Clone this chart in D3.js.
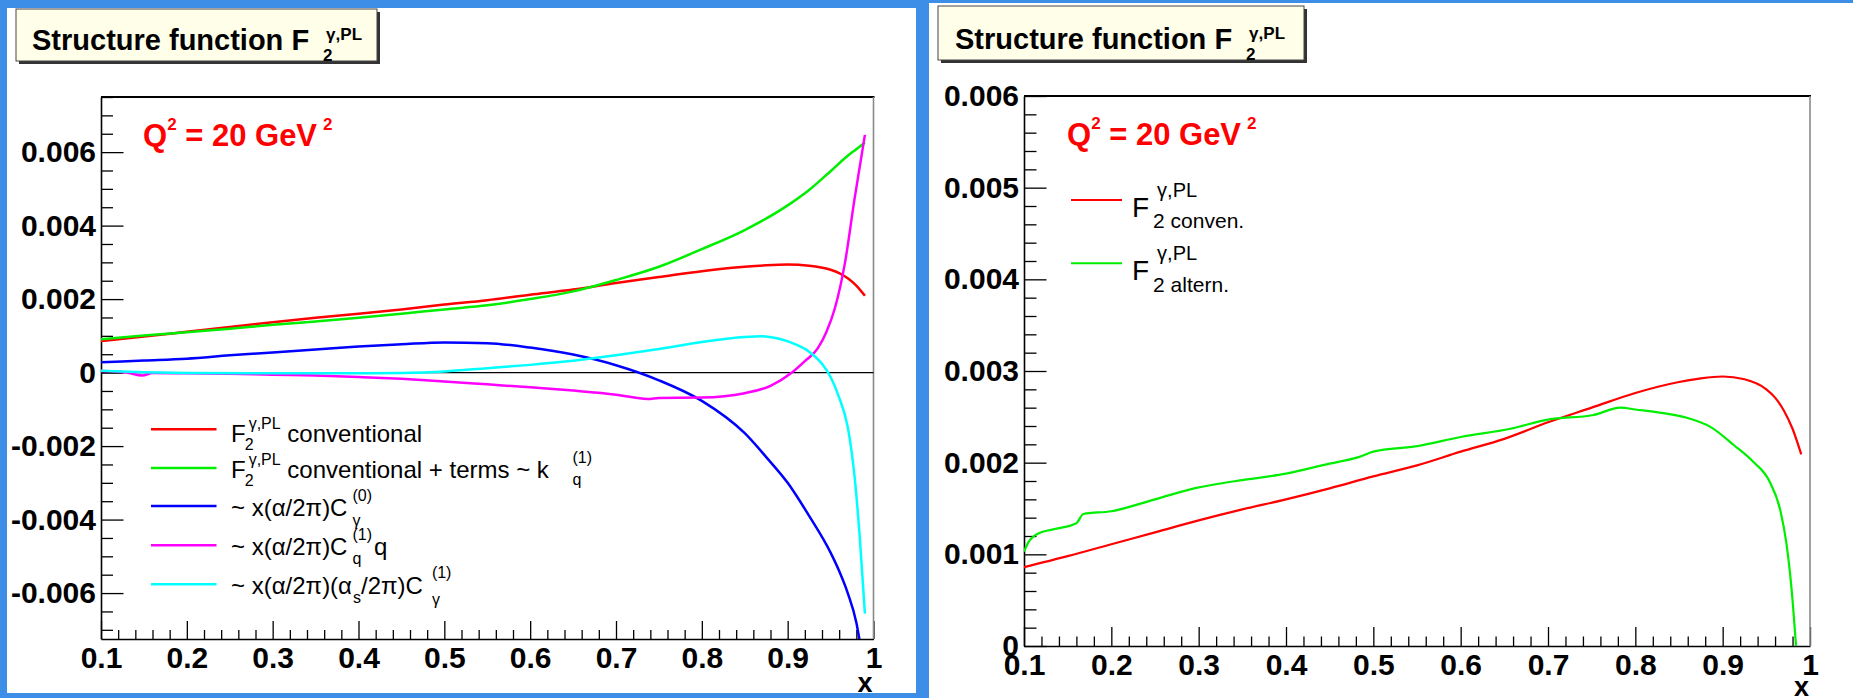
<!DOCTYPE html>
<html>
<head>
<meta charset="utf-8">
<script src="https://cdn.jsdelivr.net/npm/d3@7"></script>
<style>
  html, body { margin: 0; padding: 0; background: #3d8ee6; }
  svg { display: block; }
</style>
</head>
<body>
<svg id="chart" width="1853" height="698"></svg>
<script>
// ---- axis ticks -------------------------------------------------------
const xTickValues = [0.1, 0.2, 0.3, 0.4, 0.5, 0.6, 0.7, 0.8, 0.9, 1.0];
const xTickLabels = ["0.1", "0.2", "0.3", "0.4", "0.5", "0.6", "0.7", "0.8", "0.9", "1"];
const leftYTickValues = [-0.006, -0.004, -0.002, 0, 0.002, 0.004, 0.006];
const leftYTickLabels = ["-0.006", "-0.004", "-0.002", "0", "0.002", "0.004", "0.006"];
const rightYTickValues = [0, 0.001, 0.002, 0.003, 0.004, 0.005, 0.006];
const rightYTickLabels = ["0", "0.001", "0.002", "0.003", "0.004", "0.005", "0.006"];

// ---- curves: [x, value] at Q^2 = 20 GeV^2 -----------------------------
// F2 (gamma, PL), conventional
const f2Conventional = [
  [0.10, 0.00086], [0.15, 0.00098], [0.20, 0.00111], [0.25, 0.00124], [0.30, 0.00137],
  [0.35, 0.00149], [0.40, 0.00160], [0.45, 0.00172], [0.50, 0.00185], [0.55, 0.00197],
  [0.60, 0.00212], [0.65, 0.00226], [0.70, 0.00244], [0.75, 0.00260], [0.80, 0.00276],
  [0.85, 0.00288], [0.875, 0.00292], [0.90, 0.00294], [0.925, 0.00291], [0.95, 0.00280],
  [0.96, 0.00271], [0.97, 0.00257], [0.98, 0.00237], [0.99, 0.00209]
];
// conventional + terms ~ k_q^(1)
const f2WithKTerms = [
  [0.10, 0.00091], [0.15, 0.00101], [0.20, 0.00110], [0.25, 0.00119], [0.30, 0.00130],
  [0.35, 0.00139], [0.40, 0.00149], [0.45, 0.00160], [0.50, 0.00172], [0.55, 0.00183],
  [0.60, 0.00200], [0.65, 0.00221], [0.70, 0.00252], [0.75, 0.00288], [0.80, 0.00336],
  [0.85, 0.00388], [0.90, 0.00455], [0.925, 0.00497], [0.95, 0.00548], [0.97, 0.00590],
  [0.98, 0.00608], [0.99, 0.00626]
];
// ~ x(alpha/2pi) C_gamma^(0)
const termCGamma0 = [
  [0.10, 0.00028], [0.15, 0.00033], [0.20, 0.00038], [0.25, 0.00047], [0.30, 0.00055],
  [0.35, 0.00063], [0.40, 0.00071], [0.45, 0.00077], [0.50, 0.00082], [0.55, 0.00080],
  [0.60, 0.00068], [0.65, 0.00049], [0.70, 0.00020], [0.75, -0.00021], [0.80, -0.00077],
  [0.85, -0.00165], [0.875, -0.00230], [0.90, -0.00300], [0.925, -0.00390], [0.95, -0.00490],
  [0.96, -0.00540], [0.97, -0.00600], [0.98, -0.00680], [0.986, -0.00760]
];
// ~ x(alpha/2pi) C_q^(1) q
const termCq1 = [
  [0.10, 0.00004], [0.13, 0.00000], [0.148, -0.00008], [0.16, -0.00001], [0.20, -0.00002],
  [0.25, -0.00003], [0.30, -0.00006], [0.35, -0.00008], [0.40, -0.00012], [0.45, -0.00017],
  [0.50, -0.00024], [0.55, -0.00032], [0.60, -0.00040], [0.65, -0.00049], [0.70, -0.00060],
  [0.737, -0.00072], [0.75, -0.00069], [0.80, -0.00068], [0.85, -0.00056], [0.88, -0.00036],
  [0.905, 0.00000], [0.92, 0.00031], [0.935, 0.00066], [0.945, 0.00110], [0.955, 0.00175],
  [0.967, 0.00302], [0.978, 0.00474], [0.99, 0.00647]
];
// ~ x(alpha/2pi)(alpha_s/2pi) C_gamma^(1)
const termCGamma1 = [
  [0.10, 0.00005], [0.15, 0.00001], [0.20, -0.00001], [0.30, -0.00002], [0.40, -0.00002],
  [0.45, -0.00001], [0.50, 0.00003], [0.55, 0.00012], [0.60, 0.00021], [0.65, 0.00032],
  [0.70, 0.00047], [0.75, 0.00064], [0.80, 0.00083], [0.85, 0.00097], [0.87, 0.00099],
  [0.89, 0.00092], [0.91, 0.00076], [0.925, 0.00057], [0.94, 0.00024], [0.95, -0.00012],
  [0.96, -0.00068], [0.97, -0.00148], [0.978, -0.00284], [0.984, -0.00448], [0.99, -0.00656]
];
// F2 (gamma, PL), alternative
const f2Alternative = [
  [0.100, 0.00103], [0.105, 0.00113], [0.117, 0.00123], [0.132, 0.00127], [0.160, 0.00134],
  [0.168, 0.00144], [0.20, 0.00147], [0.25, 0.00160], [0.30, 0.00173], [0.323, 0.00177],
  [0.35, 0.00181], [0.40, 0.00188], [0.45, 0.00199], [0.483, 0.00206], [0.50, 0.00212],
  [0.55, 0.00218], [0.60, 0.00228], [0.657, 0.00237], [0.70, 0.00247], [0.752, 0.00252],
  [0.783, 0.00260], [0.80, 0.00258], [0.832, 0.00254], [0.859, 0.00249], [0.886, 0.00239],
  [0.913, 0.00219], [0.935, 0.00201], [0.954, 0.00179], [0.966, 0.00148], [0.973, 0.00112],
  [0.979, 0.00061], [0.984, 0.00000]
];

const FONT = "'Liberation Sans', Arial, Helvetica, sans-serif";
const svg = d3.select("#chart");

// white pads on the blue canvas
svg.append("rect").attr("x", 7).attr("y", 8).attr("width", 909).attr("height", 685).attr("fill", "#fff");
svg.append("rect").attr("x", 929).attr("y", 3).attr("width", 924).attr("height", 695).attr("fill", "#fff");

// ---- text with stacked super/subscripts -------------------------------
function richText(g, x, y, parts, base) {
  let cx = x;
  const mk = (str, px, py, size) => {
    const t = g.append("text")
      .attr("x", px).attr("y", py)
      .attr("font-family", FONT)
      .attr("font-size", size)
      .attr("font-weight", base.weight || "normal")
      .attr("fill", base.fill || "#000")
      .text(str.replace(/ /g, "\u00A0"));
    return t.node().getComputedTextLength();
  };
  parts.forEach(p => {
    if (p.t !== undefined) {
      cx += (p.dx || 0);
      cx += mk(p.t, cx, y + (p.dy || 0), p.size || base.size);
    } else {
      cx += (p.dx || 0);
      let w = 0;
      const s = p.size || base.scriptSize;
      if (p.sup) w = Math.max(w, (p.supDx || 0) + mk(p.sup, cx + (p.supDx || 0), y + p.supDy, p.supSize || s));
      if (p.sub) w = Math.max(w, (p.subDx || 0) + mk(p.sub, cx + (p.subDx || 0), y + p.subDy, p.subSize || s));
      cx += w;
    }
  });
  return cx;
}

// ---- title box -----------------------------------------------------------
function titleBox(bx, by, bw, bh, tx, ty) {
  svg.append("rect").attr("x", bx + 3).attr("y", by + 3).attr("width", bw).attr("height", bh).attr("fill", "#333");
  svg.append("rect").attr("x", bx).attr("y", by).attr("width", bw).attr("height", bh)
    .attr("fill", "#fefee9").attr("stroke", "#444").attr("stroke-width", 1);
  const g = svg.append("g");
  richText(g, tx, ty, [
    { t: "Structure function F" },
    { sup: "γ,PL", sub: "2", supDy: -10, subDy: 11, supDx: 17, subDx: 14 }
  ], { size: 29, scriptSize: 17, weight: "bold" });
}

// ---- one plotting pad ------------------------------------------------------
function drawPanel(cfg) {
  const x = d3.scaleLinear().domain([0.1, 1.0]).range([cfg.x0, cfg.x1]);
  const y = d3.scaleLinear().domain(cfg.yDomain).range([cfg.y1, cfg.y0]);
  const g = svg.append("g");

  const clipId = "clip" + cfg.id;
  svg.append("clipPath").attr("id", clipId).append("rect")
    .attr("x", cfg.x0).attr("y", cfg.y0).attr("width", cfg.x1 - cfg.x0).attr("height", cfg.y1 - cfg.y0);

  // minor ticks
  const xMinor = d3.range(0, 46).map(k => 0.1 + k * 0.02).filter(v => v <= 1.0001 && Math.abs(v * 10 - Math.round(v * 10)) > 1e-6);
  const kLo = Math.ceil(cfg.yDomain[0] / cfg.yMinor - 1e-6), kHi = Math.floor(cfg.yDomain[1] / cfg.yMinor + 1e-6);
  const yMinor = d3.range(kLo, kHi + 1).map(k => k * cfg.yMinor)
    .filter(v => !cfg.yTicks.some(t => Math.abs(t - v) < 1e-9));

  const gxMinor = g.append("g").attr("transform", `translate(0,${cfg.y1})`)
    .call(d3.axisBottom(x).tickValues(xMinor).tickSizeInner(-cfg.xMinorLen).tickSizeOuter(0).tickFormat(() => ""));
  gxMinor.select(".domain").remove();
  const gyMinor = g.append("g").attr("transform", `translate(${cfg.x0},0)`)
    .call(d3.axisLeft(y).tickValues(yMinor).tickSizeInner(-cfg.yMinorLen).tickSizeOuter(0).tickFormat(() => ""));
  gyMinor.select(".domain").remove();

  // major ticks and labels
  const gx = g.append("g").attr("transform", `translate(0,${cfg.y1})`)
    .call(d3.axisBottom(x).tickValues(xTickValues).tickSizeInner(-cfg.xMajorLen).tickSizeOuter(0)
      .tickPadding(7.5).tickFormat((d, i) => xTickLabels[i]));
  const gy = g.append("g").attr("transform", `translate(${cfg.x0},0)`)
    .call(d3.axisLeft(y).tickValues(cfg.yTicks).tickSizeInner(-cfg.yMajorLen).tickSizeOuter(0)
      .tickPadding(5).tickFormat((d, i) => cfg.yLabels[i]));

  [gx, gy, gxMinor, gyMinor].forEach(a => {
    a.attr("font-family", FONT).attr("font-size", 30).attr("font-weight", "bold");
    a.selectAll("line").attr("stroke", "#000").attr("stroke-width", 1.3);
    a.selectAll("text").attr("fill", "#000");
    a.selectAll(".domain").attr("stroke", "#000").attr("stroke-width", 1.6);
  });

  // frame top / right
  g.append("line").attr("x1", cfg.x0).attr("x2", cfg.x1 + 1).attr("y1", cfg.y0).attr("y2", cfg.y0)
    .attr("stroke", "#000").attr("stroke-width", 2.2);
  g.append("line").attr("x1", cfg.x1).attr("x2", cfg.x1).attr("y1", cfg.y0).attr("y2", cfg.y1)
    .attr("stroke", "#8a8a8a").attr("stroke-width", 1.6);

  if (cfg.zeroLine) {
    g.append("line").attr("x1", cfg.x0).attr("x2", cfg.x1).attr("y1", y(0)).attr("y2", y(0))
      .attr("stroke", "#000").attr("stroke-width", 1.1);
  }

  // axis title
  g.append("text").attr("x", cfg.x1 - 1).attr("y", cfg.xTitleY).attr("text-anchor", "end")
    .attr("font-family", FONT).attr("font-weight", "bold").attr("font-size", 27).text("x");

  // curves
  const line = d3.line().x(d => x(d[0])).y(d => y(d[1])).curve(d3.curveMonotoneX);
  const curves = g.append("g").attr("clip-path", `url(#${clipId})`);
  cfg.series.forEach(s => {
    curves.append("path").datum(s.data).attr("d", line)
      .attr("fill", "none").attr("stroke", s.color).attr("stroke-width", cfg.lineWidth)
      .attr("stroke-linejoin", "round");
  });

  // Q^2 label
  richText(g, cfg.qx, cfg.qy, [
    { t: "Q" },
    { sup: "2", supDy: -16 },
    { t: " = 20 GeV" },
    { sup: "2", supDy: -16, supDx: 6 }
  ], { size: 31, scriptSize: 17, weight: "bold", fill: "#ff0000" });

  return { x, y, g };
}

// ---- left pad: contributions --------------------------------------------
const leftSeries = [
  { data: f2Conventional, color: "#ff0000" },
  { data: f2WithKTerms, color: "#00ee00" },
  { data: termCGamma0, color: "#0000ff" },
  { data: termCq1, color: "#ff00ff" },
  { data: termCGamma1, color: "#00ffff" }
];
titleBox(16, 9, 361, 52, 32, 50);
const left = drawPanel({
  id: "L", x0: 101, x1: 873.5, y0: 97, y1: 639,
  yDomain: [-0.00725, 0.0075], yTicks: leftYTickValues, yLabels: leftYTickLabels, yMinor: 0.0005,
  xMajorLen: 18, xMinorLen: 9, yMajorLen: 22.5, yMinorLen: 12,
  zeroLine: true, xTitleY: 692, qx: 143, qy: 146, lineWidth: 2.5,
  series: leftSeries
});

// left legend
const leftLegendColors = ["#ff0000", "#00ee00", "#0000ff", "#ff00ff", "#00ffff"];
const leftLegendY = [429.3, 468, 506, 545.3, 584.3];
const leftLegendText = [
  [{ t: "F" }, { sup: "γ,PL", sub: "2", supDy: -13, subDy: 8, supDx: 3, subDx: -1 }, { t: " conventional" }],
  [{ t: "F" }, { sup: "γ,PL", sub: "2", supDy: -13, subDy: 8, supDx: 3, subDx: -1 }, { t: " conventional + terms ~ k " },
   { sup: "(1)", sub: "q", supDy: -15, subDy: 7, dx: 17 }],
  [{ t: "~ x(α/2π)C" }, { sup: "(0)", sub: "γ", supDy: -15, subDy: 10, dx: 5 }],
  [{ t: "~ x(α/2π)C" }, { sup: "(1)", sub: "q", supDy: -15, subDy: 9, dx: 5 }, { t: "q", dx: 2 }],
  [{ t: "~ x(α/2π)(α" }, { sub: "s", subDy: 9, dx: 1 }, { t: "/2π)C" }, { sup: "(1)", sub: "γ", supDy: -16, subDy: 11, dx: 9 }]
];
const leftBaseOffset = [12.4, 10.3, 9.7, 9.7, 9.7];
leftLegendText.forEach((parts, i) => {
  left.g.append("line").attr("x1", 151).attr("x2", 216.5)
    .attr("y1", leftLegendY[i]).attr("y2", leftLegendY[i])
    .attr("stroke", leftLegendColors[i]).attr("stroke-width", 2.4);
  richText(left.g, 231, leftLegendY[i] + leftBaseOffset[i], parts, { size: 24, scriptSize: 16 });
});

// ---- right pad: conventional vs alternative -------------------------------
titleBox(938, 6, 366, 54, 955, 48.5);
const right = drawPanel({
  id: "R", x0: 1024, x1: 1810, y0: 96, y1: 646,
  yDomain: [0, 0.006], yTicks: rightYTickValues, yLabels: rightYTickLabels, yMinor: 0.0002,
  xMajorLen: 19, xMinorLen: 9.5, yMajorLen: 22.5, yMinorLen: 12.5,
  zeroLine: false, xTitleY: 696, qx: 1067, qy: 145, lineWidth: 2.2,
  series: [
    { data: f2Conventional, color: "#ff0000" },
    { data: f2Alternative, color: "#00ee00" }
  ]
});

const rightLegendColors = ["#ff0000", "#00ee00"];
const rightLegendY = [200, 263.3];
const rightLegendSub = ["2 conven.", "2 altern."];
rightLegendSub.forEach((sub, i) => {
  right.g.append("line").attr("x1", 1071).attr("x2", 1122)
    .attr("y1", rightLegendY[i]).attr("y2", rightLegendY[i])
    .attr("stroke", rightLegendColors[i]).attr("stroke-width", 2);
  richText(right.g, 1132, rightLegendY[i] + 16.7, [
    { t: "F" },
    { sup: "γ,PL", sub: sub, supDy: -20, subDy: 11.6, supDx: 8, subDx: 4, supSize: 20, subSize: 21 }
  ], { size: 28, scriptSize: 20 });
});
</script>
</body>
</html>
